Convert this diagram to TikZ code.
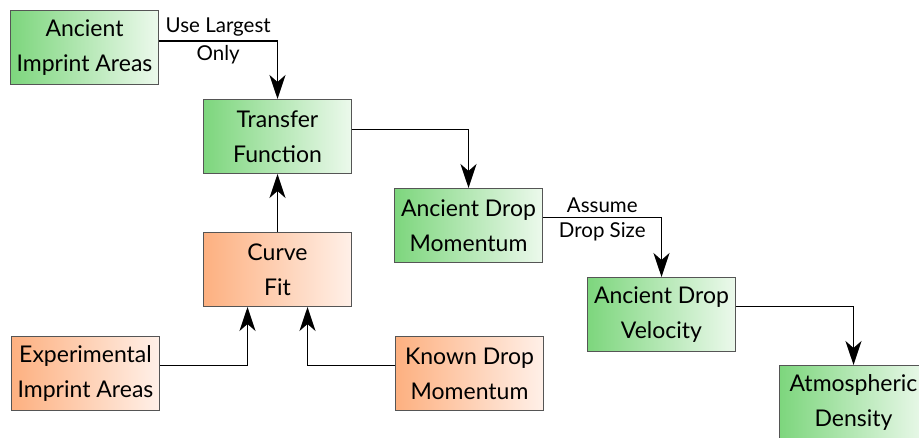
\documentclass[tikz,border=0pt]{standalone}
\usepackage{fontspec}
\setmainfont{Lato}
\usetikzlibrary{arrows.meta}
\definecolor{gL}{RGB}{125,214,125}
\definecolor{gR}{RGB}{236,249,236}
\definecolor{oL}{RGB}{253,176,128}
\definecolor{oR}{RGB}{255,240,232}
\definecolor{bd}{RGB}{85,85,85}
\tikzset{
  box/.style={draw=bd, line width=1pt, minimum width=148pt, minimum height=74pt,
    anchor=north west, align=center, inner sep=0pt, font=\fontsize{23}{35}\selectfont,
    shading angle=100},
  gbox/.style={box, left color=gL, right color=gR},
  obox/.style={box, left color=oL, right color=oR},
  conn/.style={line width=1.5pt, -{Stealth[length=24pt,width=16pt,inset=7pt]}},
  lbl/.style={font=\fontsize{20.5}{24}\selectfont, inner sep=4pt}
}
\begin{document}
\begin{tikzpicture}[x=1pt,y=-1pt]
\useasboundingbox (0,0) rectangle (919,438);
\clip (0,0) rectangle (919,438);
\node[gbox] (aia) at (10,10) {Ancient\\Imprint Areas};
\node[gbox] (tf) at (203,99) {Transfer\\Function};
\node[gbox] (adm) at (394,188) {Ancient Drop\\Momentum};
\node[obox] (cf) at (203,232) {Curve\\Fit};
\node[obox] (exp) at (11,336) {Experimental\\Imprint Areas};
\node[obox] (kdm) at (395,336) {Known Drop\\Momentum};
\node[gbox] (adv) at (587,277) {Ancient Drop\\Velocity};
\node[gbox] (ad) at (779,365) {Atmospheric\\Density};

\draw[conn] ([yshift=6.5pt]aia.east) -| node[lbl, pos=0.25, above] {Use Largest} node[lbl, pos=0.25, below] {Only} (tf.north);
\draw[conn] ([yshift=7pt]tf.east) -| (adm.north);
\draw[conn] (cf.north) -- (tf.south);
\draw[conn] ([yshift=8pt]adm.east) -| node[lbl, pos=0.25, above] {Assume} node[lbl, pos=0.25, below] {Drop Size} (adv.north);
\draw[conn] ([yshift=8pt]adv.east) -| (ad.north);
\draw[conn] ([yshift=8pt]exp.east) -| ([xshift=-30pt]cf.south);
\draw[conn] ([yshift=8pt]kdm.west) -| ([xshift=30pt]cf.south);
\end{tikzpicture}
\end{document}
